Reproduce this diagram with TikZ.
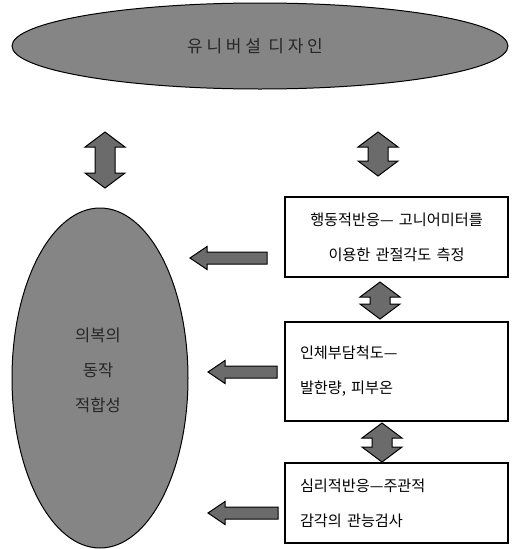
\documentclass[tikz,border=0pt]{standalone}
\usepackage{fontspec}
\usetikzlibrary{shapes.geometric}
\newfontfamily\kr{Noto Sans CJK KR}
\newfontfamily\krw[LetterSpace=22]{Noto Sans CJK KR}
\definecolor{ellgray}{gray}{0.52}
\definecolor{arrgray}{gray}{0.42}
\tikzset{
  ellfill/.style={ellipse, draw=black, line width=1pt, fill=ellgray, inner sep=0pt},
  infobox/.style={rectangle, draw=black, line width=1.2pt, fill=white, minimum width=223pt, text width=193pt, inner xsep=15pt,
                  font=\kr\fontsize{15.2}{35}\selectfont},
  blockarrow/.style={draw=black, line width=1pt, fill=arrgray, line join=miter},
  leftarr/.pic={\draw[blockarrow] (0,0) -- (17,-11.5) -- (17,-6) -- (#1,-6) -- (#1,6) -- (17,6) -- (17,11.5) -- cycle;},
  vdarr/.pic={\draw[blockarrow] (0,-#1) -- (20,-#1+15) -- (10,-#1+15) -- (10,#1-15) -- (20,#1-15) -- (0,#1)
               -- (-20,#1-15) -- (-10,#1-15) -- (-10,-#1+15) -- (-20,-#1+15) -- cycle;}
}
\begin{document}
\begin{tikzpicture}[x=1pt,y=-1pt]
\useasboundingbox (0,0) rectangle (516,549);
% ellipses
\node[ellfill, minimum width=496pt, minimum height=86pt] (ud) at (260,46) {};
\node[text=black!85, font=\krw\fontsize{17}{17}\selectfont] (udt) at (255,46) {유니버설 디자인};
\node[ellfill, minimum width=176pt, minimum height=340pt] (fit) at (100,378) {};
\node[text=black!85, font=\kr\fontsize{16.5}{35}\selectfont, align=center] (fitt) at (98,370) {의복의\\동작\\적합성};
% boxes
\node[infobox, align=center, minimum height=80pt, text width=213pt, inner xsep=5pt] (b1) at (396.5,237) {행동적반응— 고니어미터를\\이용한 관절각도 측정};
\node[infobox, align=left, minimum height=99pt] (b2) at (396.5,371.5) {인체부담척도—\\발한량, 피부온};
\node[infobox, align=left, minimum height=80pt] (b3) at (396.5,503) {심리적반응—주관적\\감각의 관능검사};
% vertical double arrows
\pic at (105,160) {vdarr=28};
\pic at (378,154) {vdarr=22};
\pic at (380,300.5) {vdarr=18.5};
\pic at (382,442.5) {vdarr=19.5};
% left arrows
\pic at (190,258) {leftarr=77};
\pic at (208,372) {leftarr=69};
\pic at (208,513) {leftarr=70};
\end{tikzpicture}
\end{document}
